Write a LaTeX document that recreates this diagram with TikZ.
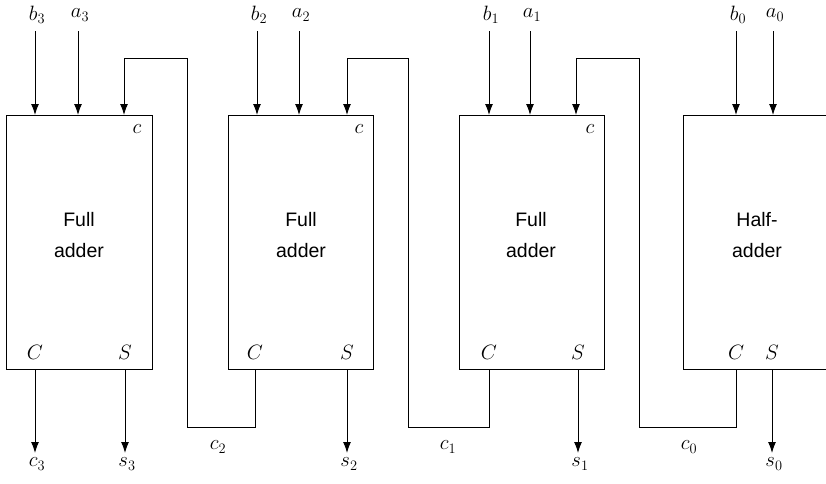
\documentclass[tikz,border=0pt]{standalone}
\usepackage{fontspec}
\newfontfamily\labelfont{Liberation Sans}
\usetikzlibrary{arrows.meta}
\begin{document}
\begin{tikzpicture}[x=1pt,y=-1pt,
  line width=1pt,
  blk/.style={draw,line width=1pt,minimum width=#1,minimum height=254pt,anchor=north west,inner sep=0pt},
  arr/.style={-{Latex[length=11pt,width=8pt]}},
  lbl/.style={font=\fontsize{22}{26}\selectfont,inner sep=0pt},
  txt/.style={font=\labelfont\fontsize{19.5}{31}\selectfont,align=center,inner sep=0pt}]
\useasboundingbox (0,0) rectangle (826,483);
\clip (0,0) rectangle (826,483);
% boxes
\node[blk=146pt] (fa3) at (6,115) {};
\node[blk=145pt] (fa2) at (228,115) {};
\node[blk=145pt] (fa1) at (459,115) {};
\node[blk=170pt] (ha) at (683,115) {};
% box texts
\node[txt] (t3) at (79,235) {Full\\adder};
\node[txt] (t2) at (301,235) {Full\\adder};
\node[txt] (t1) at (531,235) {Full\\adder};
\node[txt] (t0) at (757,235) {Half-\\adder};
% inner labels
\node[lbl] (cin3) at (137,129) {$c$};
\node[lbl] (cin2) at (359,129) {$c$};
\node[lbl] (cin1) at (590,129) {$c$};
\node[lbl] (C3) at (35,352) {$C$};
\node[lbl] (S3) at (125,352) {$S$};
\node[lbl] (C2) at (255,352) {$C$};
\node[lbl] (S2) at (347,352) {$S$};
\node[lbl] (C1) at (489,352) {$C$};
\node[lbl] (S1) at (578,352) {$S$};
\node[lbl] (C0) at (736,352) {$C$};
\node[lbl] (S0) at (772,352) {$S$};
% top labels
\node[lbl] (b3) at (37,15) {$b_3$};
\node[lbl] (a3) at (80,15) {$a_3$};
\node[lbl] (b2) at (259,15) {$b_2$};
\node[lbl] (a2) at (301,15) {$a_2$};
\node[lbl] (b1) at (491,15) {$b_1$};
\node[lbl] (a1) at (532,15) {$a_1$};
\node[lbl] (b0) at (738,15) {$b_0$};
\node[lbl] (a0) at (775,15) {$a_0$};
% bottom labels
\node[lbl] (c3) at (37,464) {$c_3$};
\node[lbl] (s3) at (127,464) {$s_3$};
\node[lbl] (s2) at (349,464) {$s_2$};
\node[lbl] (s1) at (580,464) {$s_1$};
\node[lbl] (s0) at (774,464) {$s_0$};
\node[lbl] (c2) at (218,447) {$c_2$};
\node[lbl] (c1) at (448,447) {$c_1$};
\node[lbl] (c0) at (689,447) {$c_0$};
% input arrows
\foreach \x in {35,78,257,299,489,530,736,773}{
  \draw[arr] (\x,31) -- (\x,115);
}
% output arrows
\foreach \x in {35,125,347,578,772}{
  \draw[arr] (\x,369) -- (\x,453);
}
% carry loops
\coordinate (k2a) at (255,369); \coordinate (k2b) at (255,427);
\coordinate (k2c) at (187,427); \coordinate (k2d) at (187,58);
\coordinate (k2e) at (124,58); \coordinate (k2f) at (124,115);
\draw[arr] (k2a) -- (k2b) -- (k2c) -- (k2d) -- (k2e) -- (k2f);
\coordinate (k1a) at (489,369); \coordinate (k1b) at (489,427);
\coordinate (k1c) at (408,427); \coordinate (k1d) at (408,58);
\coordinate (k1e) at (347,58); \coordinate (k1f) at (347,115);
\draw[arr] (k1a) -- (k1b) -- (k1c) -- (k1d) -- (k1e) -- (k1f);
\coordinate (k0a) at (736,369); \coordinate (k0b) at (736,427);
\coordinate (k0c) at (639,427); \coordinate (k0d) at (639,58);
\coordinate (k0e) at (576,58); \coordinate (k0f) at (576,115);
\draw[arr] (k0a) -- (k0b) -- (k0c) -- (k0d) -- (k0e) -- (k0f);
\end{tikzpicture}
\end{document}
